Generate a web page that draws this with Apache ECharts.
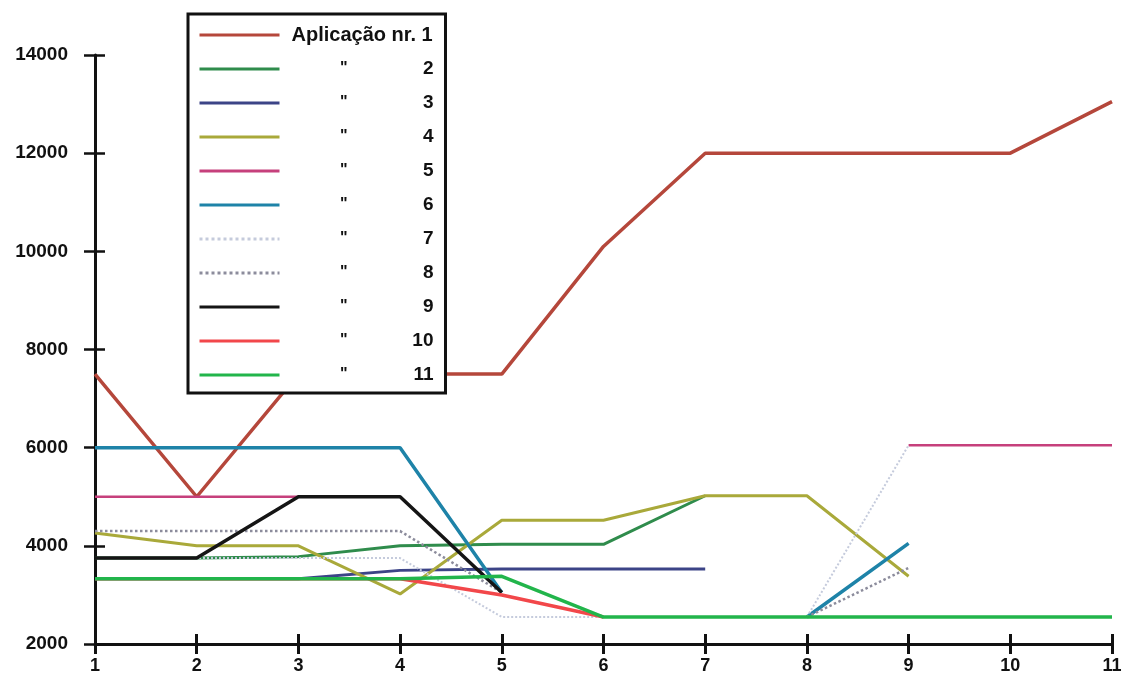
<!DOCTYPE html>
<html>
<head>
<meta charset="utf-8">
<script src="https://cdn.jsdelivr.net/npm/echarts@6/dist/echarts.min.js"></script>
<style>html,body{margin:0;padding:0;background:#fff;}#c{width:1126px;height:692px;}</style>
</head>
<body>
<div id="c"></div>
<script>
const categories = ['1','2','3','4','5','6','7','8','9','10','11'];
const yTicks = [2000, 4000, 6000, 8000, 10000, 12000, 14000];
const seriesNames = ['Aplicação nr. 1','Aplicação nr. 2','Aplicação nr. 3','Aplicação nr. 4','Aplicação nr. 5','Aplicação nr. 6','Aplicação nr. 7','Aplicação nr. 8','Aplicação nr. 9','Aplicação nr. 10','Aplicação nr. 11'];
const s1  = [7500, 5000, 7500, 7500, 7500, 10100, 12000, 12000, 12000, 12000, 13050];
const s2  = [3750, 3750, 3780, 4000, 4030, 4030, 5020, null, null, null, null];
const s3  = [3330, 3330, 3330, 3500, 3530, 3530, 3530, null, null, null, null];
const s4  = [4260, 4000, 4000, 3020, 4520, 4520, 5020, 5020, 3380, null, null];
const s5  = [5000, 5000, 5000, null, null, null, null, null, 6050, 6050, 6050];
const s6  = [6000, 6000, 6000, 6000, 3050, null, null, 2550, 4050, null, null];
const s7  = [3750, 3750, 3750, 3750, 2550, 2550, 2550, 2550, 6050, null, null];
const s8  = [4300, 4300, 4300, 4300, 3050, null, null, 2550, 3550, null, null];
const s9  = [3750, 3750, 5000, 5000, 3050, null, null, null, null, null, null];
const s10 = [3330, 3330, 3330, 3330, 3000, 2550, null, null, null, null, null];
const s11 = [3330, 3330, 3330, 3330, 3380, 2550, 2550, 2550, 2550, 2550, 2550];
const allData = [s1,s2,s3,s4,s5,s6,s7,s8,s9,s10,s11];
const colors = ['#b5473b','#2f8c4c','#3c4487','#a9a93a','#c6407c','#1e83a8','#c5cbdc','#8c8c9c','#151515','#f2474a','#22b54b'];
const lineTypes = ['solid','solid','solid','solid','solid','solid','dotted','dotted','solid','solid','solid'];
const widths = [3.5,3,3,3,2.5,3.5,2,2.5,3.5,3.5,3.5];

const FONT = 'Liberation Sans, Arial, sans-serif';
const chart = echarts.init(document.getElementById('c'), null, {renderer:'canvas'});

const series = allData.map((d, i) => ({
  name: seriesNames[i],
  type: 'line',
  data: d,
  xAxisIndex: 0,
  yAxisIndex: 0,
  symbol: 'none',
  showSymbol: false,
  connectNulls: false,
  silent: true,
  animation: false,
  lineStyle: { color: colors[i], width: widths[i], type: lineTypes[i] },
  itemStyle: { color: colors[i] }
}));

const option = {
  backgroundColor: '#ffffff',
  animation: false,
  grid: { left: 95, right: 14, top: 55, bottom: 48, containLabel: false },
  xAxis: [{
    type: 'category', data: categories, boundaryGap: false,
    axisLine: { lineStyle: { color: '#111', width: 3 } },
    axisTick: { show: true, length: 10, lineStyle: { color: '#111', width: 3 } },
    axisLabel: { color: '#111', fontFamily: FONT, fontWeight: 'bold', fontSize: 18, margin: 13, interval: 0 },
    splitLine: { show: false }
  }, {
    type: 'category', data: categories, boundaryGap: false, position: 'bottom',
    axisLine: { show: false },
    axisTick: { show: true, inside: true, length: 10, lineStyle: { color: '#111', width: 3 } },
    axisLabel: { show: false }, splitLine: { show: false }
  }],
  yAxis: [{
    type: 'value', min: yTicks[0], max: yTicks[yTicks.length-1], interval: 2000, position: 'left',
    axisLine: { show: true, lineStyle: { color: '#111', width: 3 } },
    axisTick: { show: true, length: 11, lineStyle: { color: '#111', width: 2.5 } },
    axisLabel: { color: '#111', fontFamily: FONT, fontWeight: 'bold', fontSize: 19, margin: 27,
                 formatter: function (v) { return String(v); } },
    splitLine: { show: false }
  }, {
    type: 'value', min: yTicks[0], max: yTicks[yTicks.length-1], interval: 2000, position: 'left',
    axisLine: { show: false },
    axisTick: { show: true, inside: true, length: 10, lineStyle: { color: '#111', width: 2.5 } },
    axisLabel: { show: false }, splitLine: { show: false }
  }],
  legend: {
    orient: 'vertical', left: 188, top: 14,
    padding: [11, 12, 8, 10],
    itemWidth: 80, itemHeight: 14, itemGap: 14,
    backgroundColor: '#ffffff', borderColor: '#111', borderWidth: 3,
    selectedMode: false,
    itemStyle: { opacity: 0, borderWidth: 0 },
    lineStyle: { width: 3 },
    data: seriesNames,
    formatter: function (name) {
      const i = seriesNames.indexOf(name);
      if (i === 0) return '{a|' + name + '}';
      return '{q|"}{n|' + (i + 1) + '}';
    },
    textStyle: {
      color: '#111', fontFamily: FONT, fontWeight: 'bold', fontSize: 18, lineHeight: 20,
      rich: {
        a: { fontFamily: FONT, fontWeight: 'bold', fontSize: 20, color: '#111', padding: [0,0,0,7], lineHeight: 20 },
        q: { fontFamily: FONT, fontWeight: 'bold', fontSize: 16, color: '#111', width: 63, align: 'right', lineHeight: 20 },
        n: { fontFamily: FONT, fontWeight: 'bold', fontSize: 19, color: '#111', width: 86, align: 'right', lineHeight: 20 }
      }
    }
  },
  series: series
};
chart.setOption(option);
</script>
</body>
</html>
